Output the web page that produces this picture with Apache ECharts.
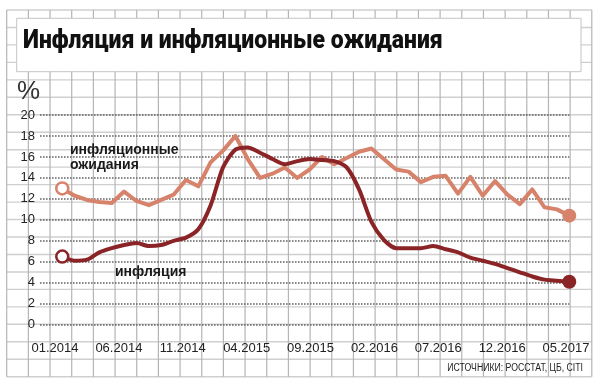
<!DOCTYPE html>
<html><head><meta charset="utf-8">
<script src="https://cdn.jsdelivr.net/npm/echarts@6/dist/echarts.min.js"></script>
<style>html,body{margin:0;padding:0;background:#fff}#c{width:600px;height:386px}</style>
</head><body><div id="c"></div>
<script>
const months = ['12.2013','01.2014','02.2014','03.2014','04.2014','05.2014','06.2014','07.2014','08.2014','09.2014','10.2014','11.2014','12.2014',
  '01.2015','02.2015','03.2015','04.2015','05.2015','06.2015','07.2015','08.2015','09.2015','10.2015','11.2015','12.2015',
  '01.2016','02.2016','03.2016','04.2016','05.2016','06.2016','07.2016','08.2016','09.2016','10.2016','11.2016','12.2016',
  '01.2017','02.2017','03.2017','04.2017','05.2017'];
const inflation = [6.5,6.1,6.2,6.9,7.3,7.6,7.8,7.5,7.6,8.0,8.3,9.1,11.4,15.0,16.7,16.9,16.4,15.8,15.3,15.6,15.8,15.7,15.6,15.0,12.9,9.8,8.1,7.3,7.3,7.3,7.5,7.2,6.9,6.4,6.1,5.8,5.4,5.0,4.6,4.3,4.2,4.1];
const expectations = [13.0,12.3,11.9,11.7,11.6,12.7,11.8,11.4,11.9,12.4,13.8,13.2,15.5,16.6,18.0,15.8,14.0,14.4,15.0,14.0,14.8,16.0,15.3,15.9,16.5,16.8,15.8,14.8,14.6,13.6,14.1,14.2,12.5,14.1,12.3,13.7,12.4,11.5,12.9,11.2,11.0,10.4];
const tickLabels = ['01.2014','06.2014','11.2014','04.2015','09.2015','02.2016','07.2016','12.2016','05.2017'];
const yTicks = [0,2,4,6,8,10,12,14,16,18,20];
const title = 'Инфляция и инфляционные ожидания';
const source = 'ИСТОЧНИКИ: РОССТАТ, ЦБ, CITI';

const C_INF = '#8b2427', C_EXP = '#d7826b';
const NARROW = "'Liberation Sans Narrow','Liberation Sans',Arial,sans-serif";

function seriesData(arr, color) {
  return arr.map((v, i) => {
    const item = { value: [i, v] };
    if (i === 0) {
      item.symbol = 'circle'; item.symbolSize = 12;
      item.itemStyle = { color: '#fff', borderColor: color, borderWidth: 2.5 };
    } else if (i === arr.length - 1) {
      item.symbol = 'circle'; item.symbolSize = 14;
      item.itemStyle = { color: color, borderWidth: 0 };
    }
    return item;
  });
}

// background "paper" grid
const bg = [];
const X0 = 6.7, X1 = 591.8, Y0 = 10, Y1 = 376.7, NC = 27, NR = 21;
for (let k = 0; k <= NR; k++) {
  const y = Y0 + (Y1 - Y0) * k / NR;
  bg.push({ type: 'line', silent: true, z: -20, shape: { x1: X0, y1: y, x2: X1, y2: y }, style: { stroke: '#cfcfcf', lineWidth: 1.4 } });
}
for (let k = 0; k <= NC; k++) {
  const x = X0 + (X1 - X0) * k / NC;
  bg.push({ type: 'line', silent: true, z: -19, shape: { x1: x, y1: Y0, x2: x, y2: Y1 }, style: { stroke: '#b5b5b5', lineWidth: 1.2 } });
}
bg.push({ type: 'rect', silent: true, z: -10, shape: { x: 16.7, y: 18.3, width: 564.3, height: 53.4 }, style: { fill: '#fff', stroke: '#c4c4c4', lineWidth: 1 } });
bg.push({ type: 'text', z: 10, x: 23, y: 41, scaleX: 0.884, style: { x: 0, y: 0, text: title, fill: '#111', font: "900 26px Roboto, 'Liberation Sans', sans-serif", textVerticalAlign: 'middle' } });
bg.push({ type: 'text', z: 10, style: { x: 17, y: 92, text: '%', fill: '#333', font: "normal 26px 'Liberation Sans', sans-serif", textVerticalAlign: 'middle' } });
bg.push({ type: 'text', z: 10, style: { x: 70, y: 150, text: 'инфляционные', fill: '#1a1a1a', font: "bold 14px 'Liberation Sans', sans-serif", textVerticalAlign: 'middle' } });
bg.push({ type: 'text', z: 10, style: { x: 70, y: 165.5, text: 'ожидания', fill: '#1a1a1a', font: "bold 14px 'Liberation Sans', sans-serif", textVerticalAlign: 'middle' } });
bg.push({ type: 'text', z: 10, style: { x: 115, y: 272, text: 'инфляция', fill: '#1a1a1a', font: "bold 14px 'Liberation Sans', sans-serif", textVerticalAlign: 'middle' } });
bg.push({ type: 'text', z: 10, x: 583, y: 368, scaleX: 0.87, style: { x: 0, y: 0, text: source, fill: '#222', font: "10px " + NARROW, textAlign: 'right', textVerticalAlign: 'middle' } });

const chart = echarts.init(document.getElementById('c'), null, { renderer: 'canvas' });
chart.setOption({
  animation: false,
  backgroundColor: '#fff',
  graphic: bg,
  grid: [
    { left: 40, right: 30.7, top: 115, bottom: 61.3 },
    { left: 55, right: 34, top: 115, bottom: 61.3 }
  ],
  xAxis: [
    { type: 'value', gridIndex: 0, min: -1.8, max: months.length - 1, show: false },
    { type: 'value', gridIndex: 1, min: 0, max: 40, interval: 5,
      axisLine: { show: false }, axisTick: { show: false }, splitLine: { show: false },
      axisLabel: { margin: 17, color: '#222', fontSize: 13, fontFamily: NARROW,
        formatter: v => tickLabels[Math.round(v / 5)] || '' } }
  ],
  yAxis: [
    { type: 'value', gridIndex: 0, min: yTicks[0], max: yTicks[yTicks.length - 1], interval: 2,
      axisLine: { show: false }, axisTick: { show: false },
      axisLabel: { margin: 5, color: '#222', fontSize: 13, fontFamily: "'Liberation Sans', sans-serif" },
      splitLine: { show: true, lineStyle: { color: '#666', width: 1.6, type: [1.6, 1.4] } } },
    { type: 'value', gridIndex: 1, min: 0, max: 20, show: false }
  ],
  series: [
    { name: 'инфляционные ожидания', type: 'line', xAxisIndex: 0, yAxisIndex: 0,
      data: seriesData(expectations, C_EXP), symbol: 'none', showAllSymbol: true, z: 3,
      lineStyle: { color: C_EXP, width: 4, join: 'round' }, itemStyle: { color: C_EXP } },
    { name: 'инфляция', type: 'line', xAxisIndex: 0, yAxisIndex: 0, smooth: 0.25,
      data: seriesData(inflation, C_INF), symbol: 'none', showAllSymbol: true, z: 4,
      lineStyle: { color: C_INF, width: 4, join: 'round' }, itemStyle: { color: C_INF } }
  ]
});
</script></body></html>
